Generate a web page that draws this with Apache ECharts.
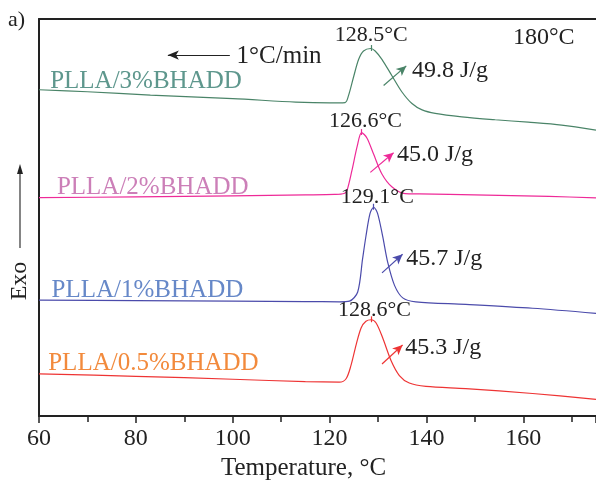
<!DOCTYPE html>
<html>
<head>
<meta charset="utf-8">
<script src="https://cdn.jsdelivr.net/npm/echarts@6/dist/echarts.min.js"></script>
<style>
  html, body { margin: 0; padding: 0; background: #fff; }
  #chart { width: 596px; height: 486px; }
</style>
</head>
<body>
<div id="chart"></div>
<script>
// DSC cooling curves (1 °C/min from 180 °C), curves shifted vertically, exo up
const seriesNames = ['PLLA/3%BHADD', 'PLLA/2%BHADD', 'PLLA/1%BHADD', 'PLLA/0.5%BHADD'];

const temp3 = [60, 70, 83, 100, 113, 120, 123.2, 123.9, 125.0, 126.0, 127.0, 128.5, 129.4, 130.8, 132.9, 134.9, 137.0, 139.1, 141.8, 147.3, 154.2, 161.0, 167.9, 175];
const flow3 = [332, 330, 326.5, 323, 319.5, 318.7, 319, 326, 346, 363, 371.5, 374, 371.5, 363, 346, 330, 318, 311.5, 308, 304.5, 301.5, 299, 296, 291];

const temp2 = [60, 80, 100, 115, 121, 123.0, 123.6, 124.6, 125.7, 126.6, 127.7, 129.1, 130.8, 132.9, 135.6, 138.5, 144.7, 155, 165.3, 175];
const flow2 = [222.3, 223, 224, 225, 225.5, 226.5, 229.7, 249.7, 274.7, 288.5, 283, 266.3, 246.3, 233, 226.3, 226, 225.5, 224.5, 223.5, 222];

const temp1 = [60, 80, 100, 115, 122, 124.1, 125.8, 126.8, 127.5, 128.35, 129.1, 129.9, 130.95, 132.0, 133.4, 135.1, 137.8, 148.1, 161.9, 175];
const flow1 = [118, 117.5, 117, 116.5, 116.3, 117, 126.3, 159.7, 183, 206.3, 212.5, 206.3, 183, 156.3, 133, 120.3, 116.3, 113.7, 109.7, 104.5];

const temp05 = [60, 80, 100, 115, 122, 123.4, 124.4, 125.5, 126.5, 127.5, 128.6, 129.6, 130.95, 132.7, 134.4, 136.45, 139.9, 148.1, 161.9, 175];
const flow05 = [43, 40.5, 37.5, 35, 34.5, 38, 51.3, 73, 89.7, 96.5, 98, 94.7, 79.7, 56.3, 41.3, 33.7, 30.3, 28, 23, 17];

// crystallization peak temperatures (°C) and enthalpies (J/g)
const peakTemps = [128.5, 126.6, 129.1, 128.6];
const enthalpies = ['49.8', '45.0', '45.7', '45.3'];

const lineColors = ['#4a8468', '#ee2a98', '#4b4bab', '#ee3434'];
const nameColors = ['#5e978d', '#cc7fb8', '#6688c8', '#f28a3c'];

const FONT = "'Liberation Serif', 'Times New Roman', serif";

function pairs(t, v) { return t.map((x, i) => [x, v[i]]); }
const curves = [pairs(temp3, flow3), pairs(temp2, flow2), pairs(temp1, flow1), pairs(temp05, flow05)];

// annotation anchors in data coordinates
const nameAnchors = [[62.3, 340], [63.7, 233], [62.6, 128], [61.9, 53.7]];
const peakLabelAnchors = [[128.6, 388], [127.4, 300], [129.85, 223], [129.25, 108]];
const enthalpyAnchors = [[137.0, 351.3], [133.9, 266.3], [135.8, 159.7], [135.6, 69.7]];
const enthalpyArrows = [
  [[131.15, 336.3], [135.83, 356.3]],
  [[128.41, 248], [133.21, 268]],
  [[130.82, 145.7], [135.07, 164.7]],
  [[130.82, 53], [135.07, 72.3]]
];

function peakValue(curve, t) {
  const p = curve.find(d => d[0] === t);
  return p ? p[1] : curve.reduce((m, d) => Math.max(m, d[1]), -Infinity);
}

const series = curves.map((curve, i) => {
  const pv = peakValue(curve, peakTemps[i]);
  const markData = [
    { coord: nameAnchors[i], label: { position: 'right', distance: 0, formatter: seriesNames[i], color: nameColors[i], fontSize: 25 } },
    { coord: peakLabelAnchors[i], label: { position: 'inside', formatter: peakTemps[i].toFixed(1) + '°C', color: '#222', fontSize: 22 } },
    { coord: enthalpyAnchors[i], label: { position: 'right', distance: 0, formatter: enthalpies[i] + ' J/g', color: '#222', fontSize: 24 } }
  ];
  const lineData = [
    [ { coord: enthalpyArrows[i][0], symbol: 'none' }, { coord: enthalpyArrows[i][1], symbol: 'arrow', symbolSize: [7, 10] } ],
    [ { coord: [peakTemps[i], pv - 2.5], symbol: 'none' }, { coord: [peakTemps[i], pv + 3.5], symbol: 'none' } ]
  ];
  if (i === 0) {
    markData.push({ coord: [164.2, 385], label: { position: 'inside', formatter: '180°C', color: '#222', fontSize: 24 } });
    markData.push({ coord: [100.8, 366.3], label: { position: 'right', distance: 0, formatter: '1°C/min', color: '#222', fontSize: 25 } });
    lineData.push([
      { coord: [99.4, 367.3], symbol: 'none', lineStyle: { color: '#222', width: 1.2 } },
      { coord: [86.6, 367.3], symbol: 'arrow', symbolSize: [7, 11], lineStyle: { color: '#222', width: 1.2 }, itemStyle: { color: '#222' } }
    ]);
  }
  return {
    name: seriesNames[i],
    type: 'line',
    data: curve,
    showSymbol: false,
    smooth: 0.3,
    lineStyle: { color: lineColors[i], width: 1.2 },
    itemStyle: { color: lineColors[i] },
    silent: true,
    z: 2,
    markPoint: {
      symbol: 'circle',
      symbolSize: 0,
      silent: true,
      label: { show: true, fontFamily: FONT },
      data: markData
    },
    markLine: {
      silent: true,
      symbol: ['none', 'none'],
      label: { show: false },
      lineStyle: { color: lineColors[i], width: 1.2, type: 'solid' },
      itemStyle: { color: lineColors[i] },
      emphasis: { disabled: true },
      data: lineData
    }
  };
});

const chart = echarts.init(document.getElementById('chart'), null, { renderer: 'canvas' });
chart.setOption({
  animation: false,
  backgroundColor: '#fff',
  grid: { left: 39, right: 0, top: 19, bottom: 63 },
  xAxis: [
    {
      type: 'value',
      min: 60,
      max: 175,
      interval: 20,
      name: 'Temperature, °C',
      nameLocation: 'middle',
      nameGap: 35,
      nameTextStyle: { fontFamily: FONT, fontSize: 25, color: '#222', padding: [0, 28, 0, 0] },
      axisLine: { show: true, onZero: false, lineStyle: { color: '#222', width: 2 } },
      axisTick: { show: true, inside: false, length: 7, lineStyle: { color: '#222', width: 1.5 } },
      minorTick: { show: true, splitNumber: 2, length: 6, lineStyle: { color: '#222', width: 1.5 } },
      axisLabel: { fontFamily: FONT, fontSize: 24, color: '#222', margin: 11, showMaxLabel: false },
      splitLine: { show: false }
    },
    {
      type: 'value',
      position: 'top',
      min: 60,
      max: 175,
      axisLine: { show: true, onZero: false, lineStyle: { color: '#222', width: 2 } },
      axisTick: { show: false },
      axisLabel: { show: false },
      splitLine: { show: false }
    }
  ],
  yAxis: {
    type: 'value',
    min: 0,
    max: 404,
    axisLine: { show: true, onZero: false, lineStyle: { color: '#222', width: 2 } },
    axisTick: { show: false },
    axisLabel: { show: false },
    splitLine: { show: false }
  },
  series: series,
  graphic: [
    { type: 'text', left: 8, top: 9, style: { text: 'a)', fontFamily: FONT, fontSize: 22, fill: '#222' } },
    { type: 'line', shape: { x1: 20, y1: 248, x2: 20, y2: 172 }, style: { stroke: '#333', lineWidth: 1.2 } },
    { type: 'polygon', shape: { points: [[20, 164], [17, 174], [23, 174]] }, style: { fill: '#222' } },
    { type: 'text', x: 20, y: 281, rotation: Math.PI / 2,
      style: { text: 'Exo', fontFamily: FONT, fontSize: 24, fill: '#222', align: 'center', verticalAlign: 'middle' } }
  ]
});
</script>
</body>
</html>
